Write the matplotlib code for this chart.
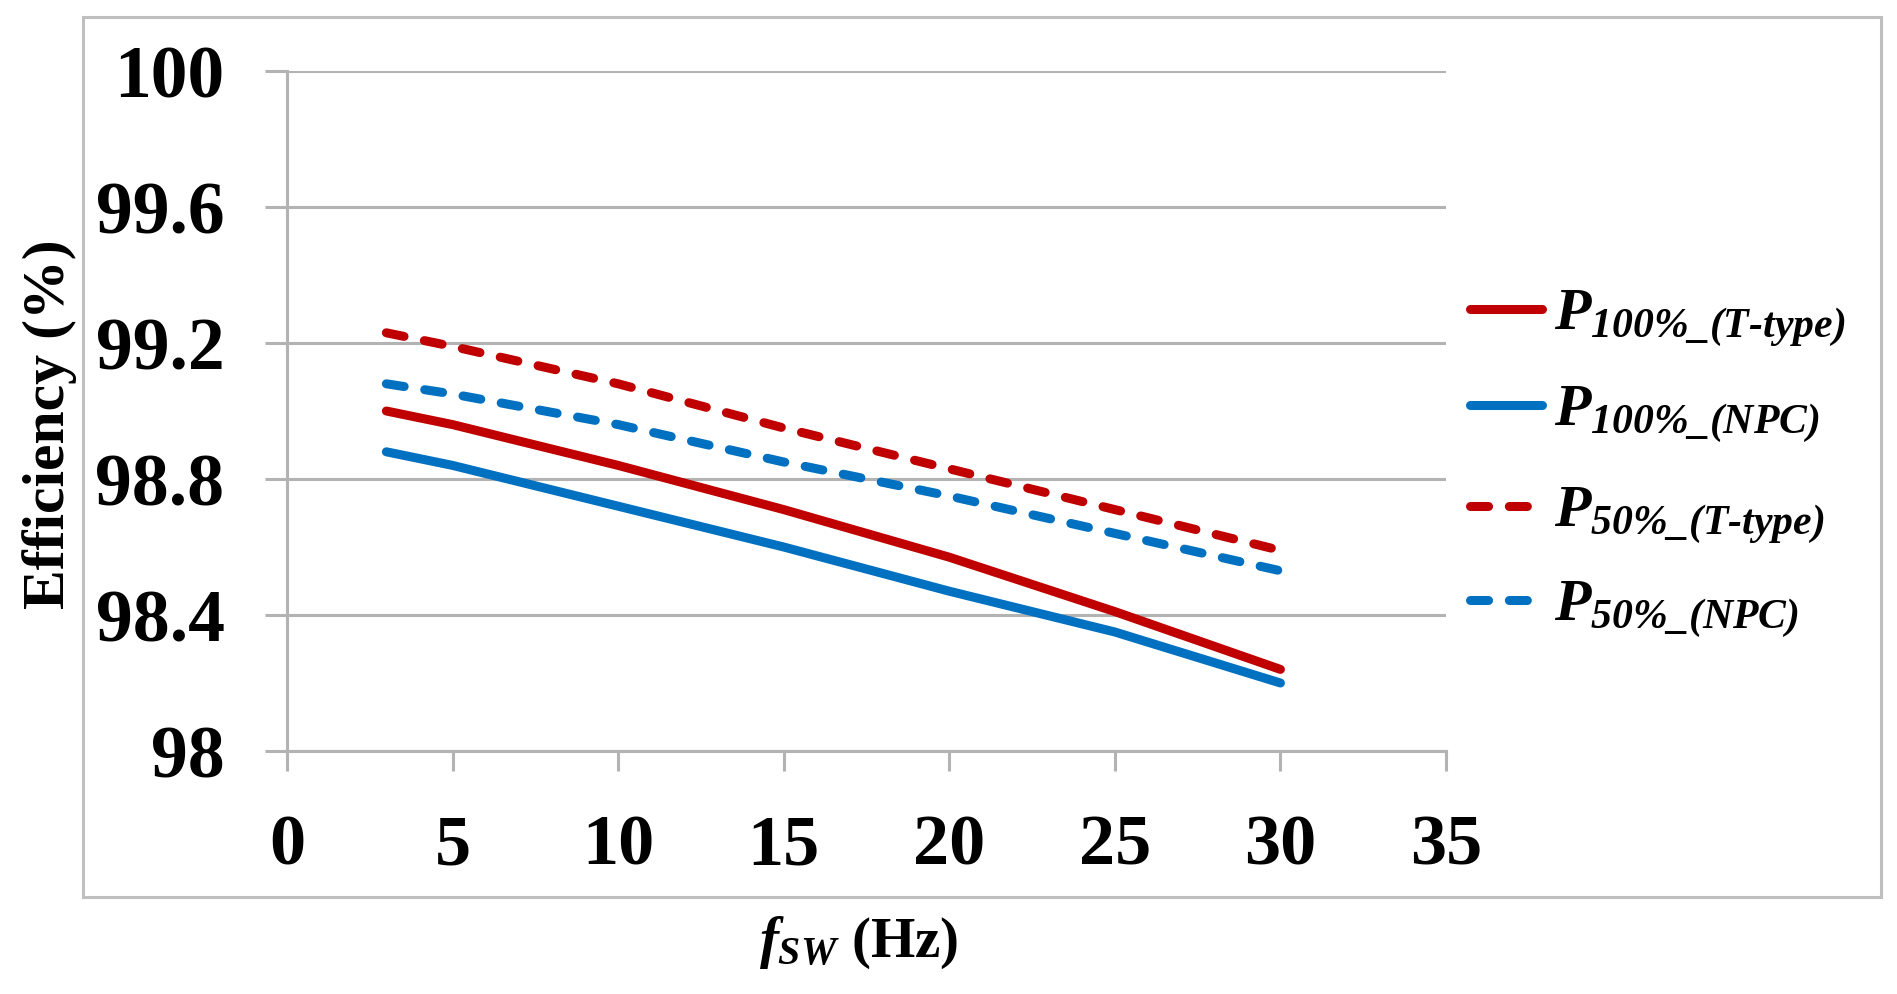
import matplotlib
matplotlib.use('Agg')
import matplotlib.pyplot as plt
from matplotlib.patches import Rectangle

plt.rcParams['font.family'] = ['Liberation Serif', 'DejaVu Serif']
plt.rcParams['mathtext.fontset'] = 'custom'
plt.rcParams['mathtext.rm'] = 'Liberation Serif:italic:bold'
plt.rcParams['mathtext.it'] = 'Liberation Serif:italic:bold'
plt.rcParams['mathtext.bf'] = 'Liberation Serif:bold'

# switching frequency (Hz)
fsw = [3, 5, 10, 15, 20, 25, 30]
# efficiency (%)
eff_ttype_100 = [99.00, 98.96, 98.84, 98.71, 98.57, 98.41, 98.24]
eff_npc_100 = [98.88, 98.84, 98.72, 98.60, 98.47, 98.35, 98.20]
eff_ttype_50 = [99.23, 99.19, 99.08, 98.95, 98.83, 98.71, 98.59]
eff_npc_50 = [99.08, 99.05, 98.96, 98.85, 98.75, 98.64, 98.53]

labels = [r'$P_{100\%\_(T\text{-}type)}$', r'$P_{100\%\_(NPC)}$',
          r'$P_{50\%\_(T\text{-}type)}$', r'$P_{50\%\_(NPC)}$']
xticks = [0, 5, 10, 15, 20, 25, 30, 35]
yticks = [98, 98.4, 98.8, 99.2, 99.6, 100]
yticklabels = ['98', '98.4', '98.8', '99.2', '99.6', '100']

RED = '#C00000'
BLUE = '#0070C0'
GRID = '#B3B3B3'

W, H = 1897, 994
fig = plt.figure(figsize=(W / 100, H / 100), dpi=100)
ax = fig.add_axes([287 / W, 1 - 751 / H, 1159 / W, 680 / H])

lw = 6.5
dash = dict(linestyle=(0, (2.0, 2.3)), dash_capstyle='round')
l1, = ax.plot(fsw, eff_ttype_100, color=RED, lw=lw, solid_capstyle='round')
l2, = ax.plot(fsw, eff_npc_100, color=BLUE, lw=lw, solid_capstyle='round')
l3, = ax.plot(fsw, eff_ttype_50, color=RED, lw=lw, **dash)
l4, = ax.plot(fsw, eff_npc_50, color=BLUE, lw=lw, **dash)

ax.set_xlim(0, 35)
ax.set_ylim(98, 100)
ax.set_xticks(xticks)
ax.set_yticks(yticks)
ax.set_yticklabels(yticklabels)
ax.grid(axis='y', color=GRID, lw=2.2)
ax.set_axisbelow(True)

for s in ['top', 'right']:
    ax.spines[s].set_visible(False)
for s in ['left', 'bottom']:
    ax.spines[s].set_color(GRID)
    ax.spines[s].set_linewidth(2.2)

ax.tick_params(axis='x', direction='out', length=14.5, width=2.2, color=GRID,
               pad=31, labelsize=52)
ax.tick_params(axis='y', direction='out', length=16, width=2.2, color=GRID,
               pad=29, labelsize=53)
for t in ax.get_xticklabels() + ax.get_yticklabels():
    t.set_fontweight('bold')

ax.set_ylabel('Efficiency (%)', fontsize=43, fontweight='bold')
ax.yaxis.label.set_va('center')
ax.yaxis.set_label_coords(-0.2045, 0.48)
ax.set_xlabel(r'$f_{SW}$ (Hz)', fontsize=41, fontweight='bold')
ax.xaxis.label.set_va('center')
ax.xaxis.set_label_coords(0.493, -0.282)

# one legend per row so the rows are evenly spaced
row_y = [319, 415, 516, 610]
for line, lab, ry in zip([l1, l2, l3, l4], labels, row_y):
    fig.legend(handles=[line], labels=[lab], loc='center left',
               bbox_to_anchor=(1470 / W, 1 - ry / H),
               frameon=False, fontsize=43, handlelength=1.2, handletextpad=0.2,
               borderpad=0, borderaxespad=0)

fig.patches.append(Rectangle((83 / W, 1 - 897 / H), (1881 - 83) / W, (897 - 17) / H,
                             transform=fig.transFigure, fill=False,
                             edgecolor='#BFBFBF', lw=2.2))

fig.savefig('out.png', dpi=100)
